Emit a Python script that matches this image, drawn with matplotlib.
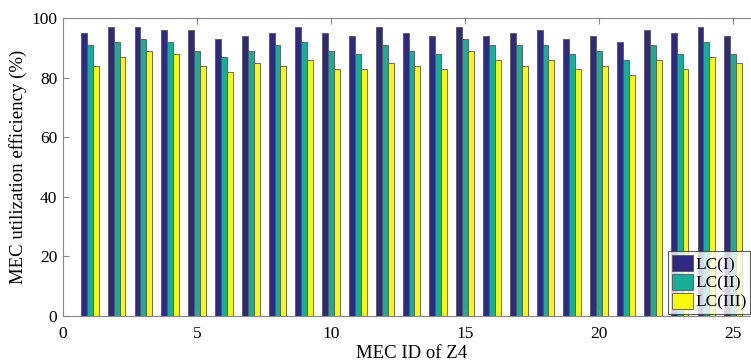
import matplotlib
matplotlib.use("Agg")
import matplotlib.pyplot as plt
import numpy as np

# MEC utilization efficiency (%) per MEC server in zone Z4
MEC_IDS = list(range(1, 26))
LC_I = [95, 97, 97, 96, 96, 93, 94, 95, 97, 95, 94, 97, 95,
        94, 97, 94, 95, 96, 93, 94, 92, 96, 95, 97, 94]
LC_II = [91, 92, 93, 92, 89, 87, 89, 91, 92, 89, 88, 91, 89,
         88, 93, 91, 91, 91, 88, 89, 86, 91, 88, 92, 88]
LC_III = [84, 87, 89, 88, 84, 82, 85, 84, 86, 83, 83, 85, 84,
          83, 89, 86, 84, 86, 83, 84, 81, 86, 83, 87, 85]
SERIES_NAMES = ["LC(I)", "LC(II)", "LC(III)"]

COLORS = ["#2f2a80", "#17ae98", "#f8f80c"]

plt.rcParams["font.family"] = ["Liberation Serif", "DejaVu Serif"]

fig = plt.figure(figsize=(7.51, 3.61), dpi=100)
# axis spans past the right edge, so its right border is clipped off
ax = fig.add_axes([63 / 751, 45 / 361, 697 / 751, 298 / 361])

x = np.array(MEC_IDS, dtype=float)
w = 0.22
for i, (vals, name) in enumerate(zip([LC_I, LC_II, LC_III], SERIES_NAMES)):
    ax.bar(x + (i - 1) * w, vals, width=w, color=COLORS[i],
           edgecolor="#555555", linewidth=0.6, label=name)

ax.set_xlim(0, 26)
ax.set_ylim(0, 100)
ax.set_xticks([0, 5, 10, 15, 20, 25])
ax.set_yticks([0, 20, 40, 60, 80, 100])
ax.tick_params(direction="in", length=4, color="#888888",
               labelsize=12.5, top=True, right=True, pad=4)
ax.tick_params(axis="x", pad=7)
for sp in ax.spines.values():
    sp.set_color("#888888")
    sp.set_linewidth(0.8)

ax.set_xlabel("MEC ID of Z4", fontsize=13.5, labelpad=2)
ax.set_ylabel("MEC utilization efficiency (%)", fontsize=13.5, labelpad=3)

leg = ax.legend(loc="lower right", bbox_to_anchor=(0.999, 0.13),
                bbox_transform=fig.transFigure, fontsize=12.5,
                frameon=True, fancybox=False, handlelength=1.2,
                handleheight=1.05, handletextpad=0.15, borderpad=0.2,
                labelspacing=0.05, borderaxespad=0)
leg.get_frame().set_edgecolor("#333333")
leg.get_frame().set_linewidth(0.8)

fig.savefig("out.png", dpi=100)
